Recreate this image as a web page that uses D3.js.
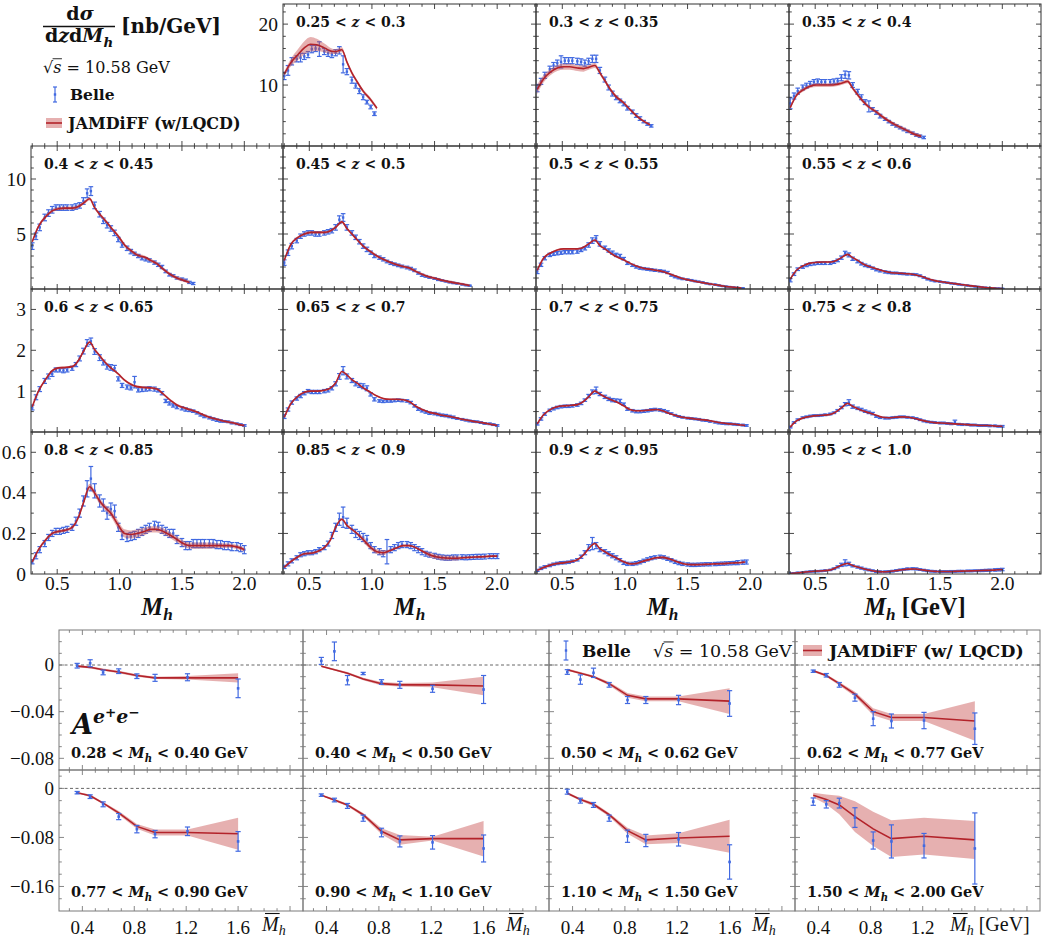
<!DOCTYPE html>
<html>
<head>
<meta charset="utf-8">
<script src="https://cdn.jsdelivr.net/npm/d3@7"></script>
<style>
  body { margin: 0; background: #fff; }
  svg { display: block; }
</style>
</head>
<body>
<svg id="chart" width="1043" height="940"></svg>
<script>
// ---------------- Cross-section data (Belle, e+e- -> (pi+pi-) X) ----------------
// Mh bin centres [GeV] shared by all z bins
const mhBins = [0.30,0.33,0.36,0.40,0.43,0.46,0.49,0.52,0.55,0.58,0.62,0.65,0.68,0.71,0.74,0.77,0.80,0.84,0.87,0.90,
  0.93,0.96,0.99,1.02,1.06,1.09,1.12,1.15,1.18,1.21,1.24,1.28,1.31,1.34,1.37,1.40,1.43,1.46,1.50,1.53,
  1.56,1.59,1.62,1.65,1.68,1.72,1.75,1.78,1.81,1.84,1.87,1.90,1.94,1.97,2.00];
// Mh nodes of the JAMDiFF curves
const thGrid = [0.30,0.35,0.41,0.46,0.51,0.56,0.62,0.67,0.71,0.76,0.80,0.84,0.88,0.93,0.99,1.04,1.09,1.14,1.20,1.25,
  1.30,1.35,1.41,1.46,1.51,1.56,1.62,1.67,1.72,1.78,1.83,1.88,1.93,1.96,2.00];

const zLow  = ["0.25","0.3","0.35","0.4","0.45","0.5","0.55","0.6","0.65","0.7","0.75","0.8","0.85","0.9","0.95"];
const zHigh = ["0.3","0.35","0.4","0.45","0.5","0.55","0.6","0.65","0.7","0.75","0.8","0.85","0.9","0.95","1.0"];

const belle_z1 = [11.5,12.4,13.9,14.3,14.5,14.7,15.0,15.9,16.0,15.9,15.5,15.2,15.0,15.3,15.7,13.4,12.2,10.8,9.9,9.0,8.0,7.2,6.4,5.3];
const belle_z1_err = [0.6,0.8,0.6,0.5,0.7,0.5,0.5,0.6,0.5,1.2,0.5,0.5,0.5,0.5,0.6,1.4,0.5,0.5,0.4,0.4,0.4,0.3,0.3,0.3];
const jam_z1 = [11.8,13.6,15.0,16.1,16.7,16.6,16.1,15.6,15.5,15.8,13.8,12.0,10.6,9.0,7.6,6.2];
const jam_z1_unc = [0.4,0.6,0.9,1.1,1.2,1.0,0.7,0.5,0.4,0.4,0.3,0.3,0.3,0.3,0.3,0.3];

const belle_z2 = [9.5,10.6,11.6,12.6,13.2,13.6,13.8,14.0,14.0,14.0,13.9,13.8,13.6,13.9,14.3,14.3,12.4,10.9,9.6,8.6,7.9,7.4,6.9,6.2,5.6,5.0,4.5,4.0,3.6,3.3];
const belle_z2_err = [0.6,0.5,0.5,0.5,0.5,0.5,1.0,0.5,0.5,0.5,0.5,0.5,0.5,0.5,0.6,0.6,0.5,0.4,0.4,0.4,0.3,0.3,0.3,0.3,0.3,0.3,0.3,0.2,0.2,0.2];
const jam_z2 = [9.3,11.0,12.2,12.8,13.0,13.0,12.8,12.7,12.9,13.2,12.0,10.7,9.4,8.1,7.1,6.0,5.0,4.2,3.5];
const jam_z2_unc = [0.8,0.6,0.5,0.5,0.5,0.5,0.5,0.5,0.4,0.4,0.3,0.3,0.3,0.3,0.2,0.2,0.2,0.2,0.2];

const belle_z3 = [7.0,8.2,9.0,9.6,9.9,10.2,10.5,10.6,10.5,10.5,10.5,10.6,10.7,11.2,11.7,11.6,10.0,8.9,8.0,7.2,6.5,6.0,5.5,4.9,4.4,4.0,3.6,3.3,3.0,2.7,2.4,2.1,1.8,1.6,1.4];
const belle_z3_err = [0.9,0.5,0.5,0.4,0.4,0.4,0.4,0.4,0.4,0.4,0.4,0.4,0.4,0.5,0.6,0.6,0.4,0.4,0.4,0.4,0.9,0.3,0.3,0.3,0.2,0.2,0.2,0.2,0.2,0.2,0.2,0.2,0.2,0.2,0.2];
const jam_z3 = [6.3,8.3,9.3,9.8,10.0,10.0,10.0,10.1,10.3,10.6,9.5,8.4,7.4,6.4,5.6,4.8,4.1,3.5,2.9,2.4,1.9,1.6];
const jam_z3_unc = 0.3;

const belle_z4 = [3.9,4.8,5.6,6.5,6.9,7.2,7.4,7.4,7.4,7.4,7.4,7.5,7.6,8.0,8.7,8.9,7.6,6.8,6.2,5.8,5.5,5.1,4.5,4.0,3.7,3.4,3.2,3.0,2.8,2.7,2.6,2.4,2.2,2.0,1.6,1.3,1.2,1.0,0.9,0.8,0.6,0.5];
const belle_z4_err = [0.3,0.3,0.3,0.3,0.3,0.3,0.25,0.25,0.25,0.25,0.25,0.25,0.25,0.3,0.4,0.4,0.3,0.25,0.25,0.25,0.25,0.25,0.2,0.2,0.2,0.2,0.15,0.15,0.15,0.15,0.15,0.15,0.15,0.15,0.12,0.12,0.1,0.1,0.1,0.1,0.1,0.1];
const jam_z4 = [4.3,5.7,6.6,7.1,7.3,7.35,7.35,7.5,7.8,8.2,7.4,6.8,6.3,5.6,4.8,4.0,3.5,3.1,2.9,2.6,2.3,1.8,1.3,1.0,0.8,0.6];
const jam_z4_unc = 0.15;

const belle_z5 = [2.4,3.3,3.9,4.4,4.8,5.0,5.1,5.1,5.0,5.0,5.1,5.2,5.3,5.6,6.3,6.5,5.6,5.1,4.7,4.3,3.9,3.6,3.3,3.0,2.85,2.7,2.5,2.35,2.25,2.15,2.05,1.95,1.85,1.7,1.45,1.25,1.15,1.05,0.95,0.85,0.78,0.7,0.62,0.55,0.5,0.42,0.35,0.3];
const belle_z5_err = [0.25,0.25,0.25,0.2,0.2,0.2,0.2,0.2,0.2,0.2,0.2,0.2,0.2,0.25,0.35,0.35,0.25,0.2,0.2,0.2,0.2,0.2,0.15,0.15,0.15,0.15,0.12,0.12,0.12,0.12,0.12,0.12,0.12,0.12,0.1,0.1,0.08,0.08,0.08,0.08,0.06,0.06,0.06,0.06,0.05,0.05,0.05,0.05];
const jam_z5 = [2.6,4.0,4.7,5.0,5.15,5.15,5.15,5.3,5.6,6.1,5.5,5.0,4.5,3.9,3.4,3.0,2.7,2.45,2.2,2.05,1.9,1.6,1.3,1.1,0.95,0.8,0.65,0.55,0.45,0.32];
const jam_z5_unc = 0.12;

const belle_z6 = [1.6,2.2,2.8,3.1,3.2,3.25,3.3,3.35,3.35,3.35,3.4,3.55,3.7,4.0,4.4,4.6,4.1,3.75,3.5,3.3,3.1,3.0,2.75,2.35,2.15,2.0,1.9,1.85,1.8,1.75,1.7,1.65,1.6,1.5,1.25,1.1,1.0,0.92,0.85,0.8,0.72,0.66,0.6,0.52,0.45,0.4,0.33,0.27,0.22,0.18,0.14,0.1,0.07];
const belle_z6_err = [0.2,0.15,0.15,0.15,0.15,0.15,0.15,0.15,0.15,0.15,0.15,0.15,0.15,0.2,0.25,0.25,0.2,0.15,0.15,0.15,0.15,0.15,0.12,0.12,0.1,0.1,0.1,0.1,0.1,0.1,0.1,0.1,0.1,0.1,0.08,0.08,0.07,0.07,0.06,0.06,0.06,0.05,0.05,0.05,0.05,0.04,0.04,0.04,0.04,0.04,0.04,0.04,0.04];
const jam_z6 = [1.7,2.8,3.3,3.55,3.65,3.65,3.65,3.8,4.1,4.45,3.95,3.65,3.3,2.95,2.65,2.35,2.1,1.9,1.8,1.7,1.6,1.4,1.15,0.95,0.82,0.7,0.58,0.48,0.38,0.28,0.2,0.14,0.09];
const jam_z6_unc = 0.08;

const belle_z7 = [0.8,1.35,1.8,2.0,2.15,2.25,2.3,2.35,2.35,2.35,2.35,2.45,2.6,2.85,3.25,3.1,2.75,2.5,2.3,2.15,2.05,1.9,1.75,1.65,1.55,1.5,1.45,1.45,1.4,1.38,1.35,1.33,1.3,1.2,1.05,0.9,0.8,0.72,0.67,0.62,0.57,0.52,0.47,0.42,0.37,0.32,0.27,0.23,0.19,0.15,0.12,0.09,0.07,0.05,0.03];
const belle_z7_err = [0.15,0.12,0.12,0.12,0.12,0.12,0.12,0.12,0.12,0.12,0.12,0.12,0.12,0.15,0.18,0.18,0.15,0.12,0.12,0.12,0.1,0.1,0.1,0.1,0.1,0.1,0.08,0.08,0.08,0.08,0.08,0.08,0.08,0.08,0.07,0.07,0.06,0.06,0.05,0.05,0.05,0.05,0.05,0.05,0.04,0.04,0.04,0.04,0.04,0.03,0.03,0.03,0.03,0.03,0.03];
const jam_z7 = [0.9,1.7,2.15,2.35,2.42,2.45,2.45,2.6,2.85,3.15,2.85,2.6,2.3,2.05,1.85,1.65,1.52,1.45,1.42,1.38,1.3,1.15,0.92,0.76,0.66,0.57,0.49,0.41,0.33,0.25,0.18,0.12,0.08,0.05,0.03];
const jam_z7_unc = 0.06;

const belle_z8 = [0.6,0.85,1.05,1.25,1.36,1.42,1.52,1.52,1.5,1.52,1.56,1.65,1.8,1.98,2.18,2.22,1.97,1.82,1.7,1.6,1.58,1.56,1.3,1.14,1.1,1.08,1.22,1.03,1.04,1.05,1.06,1.05,1.02,0.95,0.76,0.7,0.65,0.61,0.58,0.55,0.53,0.51,0.47,0.42,0.38,0.35,0.32,0.29,0.27,0.26,0.25,0.22,0.2,0.18,0.16];
const belle_z8_err = [0.06,0.06,0.06,0.06,0.06,0.06,0.05,0.05,0.05,0.05,0.05,0.05,0.06,0.07,0.08,0.08,0.07,0.07,0.06,0.06,0.07,0.07,0.05,0.05,0.05,0.05,0.14,0.05,0.05,0.05,0.05,0.05,0.04,0.04,0.04,0.04,0.04,0.04,0.04,0.04,0.03,0.03,0.03,0.03,0.03,0.03,0.03,0.03,0.03,0.02,0.02,0.02,0.02,0.02,0.02];
const jam_z8 = [0.62,1.0,1.3,1.5,1.57,1.58,1.6,1.75,1.97,2.2,2.02,1.87,1.72,1.57,1.42,1.27,1.17,1.11,1.09,1.08,1.05,0.93,0.77,0.66,0.6,0.55,0.49,0.42,0.36,0.31,0.27,0.24,0.21,0.18,0.16];
const jam_z8_unc = 0.03;

const belle_z9 = [0.38,0.55,0.72,0.82,0.88,0.95,1.0,0.98,0.98,0.98,1.0,1.02,1.07,1.18,1.36,1.5,1.36,1.26,1.18,1.14,1.12,1.07,0.92,0.8,0.76,0.75,0.76,0.76,0.77,0.78,0.77,0.76,0.72,0.64,0.56,0.52,0.49,0.46,0.45,0.43,0.41,0.4,0.38,0.36,0.33,0.31,0.29,0.27,0.26,0.25,0.23,0.21,0.2,0.18,0.16];
const belle_z9_err = [0.05,0.04,0.04,0.04,0.04,0.04,0.04,0.04,0.04,0.04,0.04,0.04,0.04,0.05,0.07,0.1,0.06,0.05,0.05,0.05,0.06,0.06,0.04,0.04,0.03,0.03,0.03,0.03,0.03,0.03,0.03,0.03,0.03,0.03,0.03,0.03,0.03,0.03,0.03,0.03,0.03,0.03,0.03,0.03,0.02,0.02,0.02,0.02,0.02,0.02,0.02,0.02,0.02,0.02,0.02];
const jam_z9 = [0.36,0.68,0.88,0.97,1.0,1.0,1.02,1.08,1.2,1.48,1.4,1.28,1.2,1.08,0.97,0.88,0.82,0.8,0.8,0.79,0.74,0.63,0.54,0.48,0.45,0.41,0.38,0.35,0.31,0.28,0.25,0.23,0.2,0.18,0.16];
const jam_z9_unc = 0.02;

const belle_z10 = [0.2,0.32,0.44,0.53,0.57,0.6,0.62,0.63,0.63,0.64,0.66,0.7,0.78,0.88,0.98,1.02,0.93,0.86,0.81,0.78,0.77,0.76,0.68,0.56,0.52,0.5,0.5,0.51,0.52,0.54,0.55,0.54,0.52,0.49,0.45,0.41,0.38,0.36,0.34,0.33,0.32,0.31,0.29,0.28,0.26,0.24,0.22,0.21,0.2,0.2,0.19,0.18,0.17,0.16];
const belle_z10_err = [0.03,0.03,0.03,0.03,0.03,0.03,0.03,0.03,0.03,0.03,0.03,0.03,0.03,0.04,0.05,0.08,0.04,0.04,0.04,0.04,0.04,0.04,0.03,0.03,0.03,0.03,0.03,0.03,0.03,0.03,0.03,0.03,0.03,0.03,0.02,0.02,0.02,0.02,0.02,0.02,0.02,0.02,0.02,0.02,0.02,0.02,0.02,0.02,0.02,0.02,0.02,0.02,0.02,0.02];
const jam_z10 = [0.2,0.42,0.56,0.62,0.64,0.65,0.67,0.75,0.86,1.0,0.93,0.86,0.8,0.74,0.64,0.55,0.52,0.52,0.54,0.55,0.52,0.46,0.4,0.36,0.34,0.32,0.3,0.28,0.25,0.22,0.2,0.19,0.17,0.16];
const jam_z10_unc = 0.02;

const belle_z11 = [0.12,0.23,0.3,0.35,0.37,0.39,0.4,0.4,0.41,0.42,0.44,0.47,0.53,0.6,0.68,0.72,0.62,0.58,0.55,0.51,0.48,0.45,0.38,0.35,0.34,0.34,0.35,0.36,0.37,0.37,0.36,0.35,0.33,0.3,0.27,0.25,0.24,0.23,0.22,0.22,0.21,0.2,0.24,0.19,0.18,0.18,0.17,0.17,0.16,0.16,0.16,0.15,0.15,0.14,0.14];
const belle_z11_err = [0.02,0.02,0.02,0.02,0.02,0.02,0.02,0.02,0.02,0.02,0.02,0.02,0.02,0.03,0.04,0.07,0.04,0.03,0.03,0.03,0.03,0.03,0.02,0.02,0.02,0.02,0.02,0.02,0.02,0.02,0.02,0.02,0.02,0.02,0.02,0.02,0.02,0.02,0.02,0.02,0.02,0.02,0.05,0.02,0.02,0.02,0.02,0.02,0.02,0.02,0.02,0.02,0.02,0.02,0.02];
const jam_z11 = [0.12,0.27,0.35,0.38,0.4,0.41,0.43,0.5,0.59,0.7,0.63,0.57,0.52,0.47,0.41,0.36,0.35,0.36,0.37,0.36,0.33,0.29,0.25,0.23,0.22,0.21,0.2,0.19,0.18,0.17,0.16,0.16,0.15,0.14,0.14];
const jam_z11_unc = 0.015;

const belle_z12 = [0.06,0.09,0.12,0.15,0.18,0.2,0.21,0.21,0.215,0.22,0.23,0.26,0.3,0.36,0.42,0.47,0.41,0.36,0.34,0.3,0.32,0.31,0.23,0.19,0.18,0.185,0.19,0.2,0.21,0.22,0.23,0.24,0.235,0.22,0.21,0.2,0.2,0.17,0.155,0.14,0.14,0.15,0.15,0.15,0.15,0.15,0.15,0.145,0.145,0.14,0.14,0.135,0.135,0.13,0.12];
const belle_z12_err = [0.01,0.015,0.015,0.015,0.015,0.015,0.015,0.015,0.015,0.015,0.015,0.02,0.02,0.025,0.04,0.06,0.035,0.03,0.03,0.03,0.03,0.03,0.02,0.02,0.02,0.02,0.02,0.02,0.02,0.02,0.02,0.02,0.02,0.02,0.02,0.02,0.02,0.02,0.02,0.02,0.02,0.02,0.02,0.02,0.02,0.02,0.02,0.02,0.02,0.02,0.02,0.02,0.02,0.02,0.02];
const jam_z12 = [0.06,0.12,0.17,0.2,0.21,0.215,0.23,0.28,0.35,0.43,0.4,0.36,0.33,0.3,0.24,0.2,0.195,0.2,0.21,0.22,0.22,0.21,0.19,0.17,0.15,0.14,0.14,0.14,0.14,0.14,0.14,0.14,0.135,0.13,0.12];
const jam_z12_unc = [0.006,0.008,0.008,0.008,0.008,0.008,0.008,0.01,0.012,0.015,0.015,0.015,0.015,0.018,0.02,0.02,0.02,0.02,0.018,0.015,0.015,0.015,0.015,0.015,0.015,0.015,0.015,0.015,0.015,0.012,0.012,0.01,0.01,0.01,0.01];

const belle_z13 = [0.035,0.05,0.065,0.08,0.095,0.1,0.105,0.105,0.11,0.12,0.13,0.15,0.19,0.23,0.27,0.28,0.25,0.22,0.2,0.19,0.18,0.17,0.14,0.12,0.11,0.1,0.11,0.12,0.13,0.14,0.145,0.145,0.14,0.13,0.12,0.11,0.1,0.095,0.09,0.085,0.082,0.08,0.08,0.082,0.082,0.083,0.082,0.083,0.084,0.085,0.085,0.086,0.088,0.088,0.088];
const belle_z13_err = [0.008,0.01,0.01,0.01,0.01,0.01,0.01,0.01,0.01,0.01,0.01,0.012,0.015,0.02,0.03,0.05,0.025,0.02,0.02,0.02,0.02,0.02,0.015,0.015,0.015,0.015,0.06,0.015,0.015,0.015,0.015,0.015,0.015,0.015,0.015,0.015,0.012,0.012,0.012,0.012,0.012,0.012,0.012,0.012,0.012,0.012,0.012,0.012,0.012,0.012,0.012,0.012,0.012,0.012,0.012];
const jam_z13 = [0.033,0.06,0.085,0.1,0.102,0.11,0.13,0.17,0.23,0.27,0.24,0.22,0.2,0.17,0.13,0.11,0.105,0.115,0.13,0.14,0.14,0.13,0.11,0.095,0.085,0.08,0.078,0.078,0.08,0.082,0.084,0.085,0.087,0.088,0.088];
const jam_z13_unc = [0.006,0.006,0.006,0.006,0.006,0.006,0.006,0.006,0.006,0.006,0.006,0.006,0.006,0.012,0.012,0.012,0.012,0.006,0.006,0.006,0.006,0.006,0.006,0.012,0.012,0.012,0.012,0.012,0.006,0.006,0.006,0.006,0.006,0.006,0.006];

const belle_z14 = [0.018,0.028,0.035,0.042,0.048,0.052,0.055,0.056,0.058,0.063,0.07,0.085,0.105,0.13,0.15,0.14,0.12,0.11,0.1,0.09,0.08,0.068,0.055,0.05,0.05,0.053,0.058,0.065,0.072,0.078,0.082,0.085,0.082,0.075,0.068,0.06,0.054,0.05,0.047,0.045,0.045,0.046,0.047,0.048,0.048,0.049,0.05,0.051,0.052,0.053,0.054,0.056,0.058,0.059];
const belle_z14_err = [0.005,0.006,0.006,0.006,0.006,0.006,0.006,0.006,0.006,0.006,0.006,0.008,0.01,0.015,0.03,0.015,0.01,0.01,0.01,0.01,0.01,0.008,0.008,0.008,0.008,0.008,0.008,0.008,0.008,0.008,0.008,0.008,0.008,0.008,0.008,0.008,0.008,0.008,0.008,0.008,0.008,0.008,0.008,0.008,0.008,0.008,0.008,0.008,0.008,0.008,0.008,0.01,0.01,0.01];
const jam_z14 = [0.018,0.032,0.045,0.052,0.055,0.06,0.07,0.095,0.125,0.15,0.125,0.11,0.095,0.08,0.06,0.05,0.052,0.062,0.072,0.08,0.082,0.075,0.062,0.052,0.047,0.046,0.047,0.048,0.05,0.051,0.053,0.055,0.057,0.059];
const jam_z14_unc = 0.005;

const belle_z15 = [0.002,0.004,0.006,0.008,0.01,0.012,0.013,0.014,0.015,0.017,0.02,0.026,0.035,0.045,0.055,0.05,0.04,0.034,0.029,0.024,0.02,0.016,0.012,0.011,0.011,0.012,0.014,0.017,0.02,0.023,0.025,0.026,0.025,0.022,0.019,0.016,0.014,0.013,0.012,0.012,0.012,0.013,0.013,0.014,0.014,0.015,0.015,0.016,0.016,0.017,0.018,0.019,0.02,0.021,0.022];
const belle_z15_err = [0.003,0.003,0.003,0.003,0.003,0.003,0.003,0.003,0.003,0.003,0.003,0.004,0.005,0.008,0.015,0.008,0.005,0.005,0.005,0.004,0.004,0.004,0.004,0.004,0.004,0.004,0.004,0.004,0.004,0.004,0.005,0.005,0.005,0.004,0.004,0.004,0.004,0.004,0.004,0.004,0.004,0.004,0.004,0.004,0.004,0.004,0.004,0.004,0.004,0.005,0.005,0.005,0.006,0.006,0.006];
const jam_z15 = [0.002,0.005,0.009,0.012,0.014,0.016,0.02,0.032,0.043,0.052,0.042,0.034,0.027,0.02,0.013,0.011,0.012,0.016,0.021,0.024,0.025,0.021,0.016,0.013,0.012,0.012,0.013,0.014,0.015,0.016,0.017,0.018,0.019,0.021,0.022];
const jam_z15_unc = 0.003;

// ---------------- Artru-Collins asymmetry data ----------------
const mbarBins = [0.36,0.46,0.56,0.68,0.82,0.96,1.21,1.60];
const mhLow  = ["0.28","0.40","0.50","0.62","0.77","0.90","1.10","1.50"];
const mhHigh = ["0.40","0.50","0.62","0.77","0.90","1.10","1.50","2.00"];

const asym_1 = [-0.0006,0.0015,-0.0064,-0.0053,-0.0096,-0.011,-0.0105,-0.020];
const asym_1_err = [0.002,0.003,0.002,0.002,0.002,0.003,0.003,0.008];
const fit_1 = [-0.001,-0.002,-0.004,-0.006,-0.009,-0.011,-0.011,-0.011];
const fit_1_unc = [0.001,0.001,0.001,0.001,0.001,0.001,0.0015,0.004];

const asym_2 = [0.0035,0.0117,-0.013,-0.0073,-0.0146,-0.017,-0.0204,-0.021];
const asym_2_err = [0.003,0.008,0.004,0.001,0.002,0.003,0.003,0.012];
const fit_2 = [-0.001,-0.004,-0.007,-0.012,-0.016,-0.017,-0.017,-0.018];
const fit_2_unc = [0.0008,0.0008,0.001,0.001,0.0015,0.0015,0.002,0.008];

const asym_3 = [-0.006,-0.0125,-0.0067,-0.017,-0.030,-0.030,-0.030,-0.033];
const asym_3_err = [0.002,0.004,0.004,0.002,0.003,0.003,0.004,0.011];
const fit_3 = [-0.004,-0.007,-0.010,-0.016,-0.026,-0.029,-0.029,-0.031];
const fit_3_unc = [0.001,0.001,0.001,0.0015,0.002,0.002,0.002,0.011];

const asym_4 = [-0.0053,-0.0088,-0.017,-0.028,-0.046,-0.048,-0.0476,-0.0546];
const asym_4_err = [0.001,0.0015,0.002,0.003,0.006,0.006,0.007,0.0135];
const fit_4 = [-0.005,-0.009,-0.016,-0.025,-0.040,-0.045,-0.045,-0.048];
const fit_4_unc = [0.001,0.001,0.0015,0.002,0.003,0.003,0.003,0.017];

const asym_5 = [-0.007,-0.0135,-0.026,-0.046,-0.0665,-0.0746,-0.070,-0.0865];
const asym_5_err = [0.002,0.003,0.004,0.005,0.006,0.006,0.007,0.016];
const fit_5 = [-0.007,-0.012,-0.024,-0.040,-0.062,-0.072,-0.072,-0.074];
const fit_5_unc = [0.001,0.002,0.002,0.003,0.004,0.005,0.005,0.026];

const asym_6 = [-0.011,-0.019,-0.0286,-0.0486,-0.072,-0.0865,-0.088,-0.098];
const asym_6_err = [0.002,0.003,0.004,0.005,0.007,0.009,0.011,0.022];
const fit_6 = [-0.011,-0.019,-0.027,-0.043,-0.070,-0.084,-0.082,-0.082];
const fit_6_unc = [0.001,0.002,0.002,0.003,0.005,0.008,0.003,0.029];

const asym_7 = [-0.0054,-0.020,-0.027,-0.0486,-0.078,-0.085,-0.083,-0.12];
const asym_7_err = [0.004,0.004,0.004,0.005,0.01,0.01,0.011,0.028];
const fit_7 = [-0.008,-0.018,-0.026,-0.043,-0.069,-0.084,-0.081,-0.078];
const fit_7_unc = [0.002,0.002,0.003,0.003,0.005,0.007,0.008,0.027];

const asym_8 = [-0.0216,-0.026,-0.024,-0.0476,-0.085,-0.0865,-0.0935,-0.098];
const asym_8_err = [0.006,0.006,0.008,0.016,0.014,0.027,0.02,0.058];
const fit_8 = [-0.011,-0.018,-0.027,-0.046,-0.066,-0.082,-0.078,-0.084];
const fit_8_unc = [0.004,0.008,0.015,0.025,0.028,0.03,0.03,0.031];

// ---------------- tick values ----------------
const mhMajor = [0.5,1.0,1.5,2.0];
const mhMinor = [0.3,0.4,0.6,0.7,0.8,0.9,1.1,1.2,1.3,1.4,1.6,1.7,1.8,1.9,2.1,2.2,2.3];
const mhTickLabels = ["0.5","1.0","1.5","2.0"];
const xsMajor = [[10,20],[5,10],[1,2,3],[0,0.2,0.4,0.6]];
const xsMinor = [[2,4,6,8,12,14,16,18,22],[1,2,3,4,6,7,8,9,11,12],[0.5,1.5,2.5],[0.1,0.3,0.5]];
const xsTickLabels = [["10","20"],["5","10"],["1","2","3"],["0","0.2","0.4","0.6"]];
const mbMajor = [0.4,0.8,1.2,1.6,2.0];
const mbMinor = [0.3,0.5,0.6,0.7,0.9,1.0,1.1,1.3,1.4,1.5,1.7,1.8,1.9];
const mbTickLabels = ["0.4","0.8","1.2","1.6"];
const asMajor = [[0,-0.04,-0.08],[0,-0.08,-0.16]];
const asMinor = [[0.02,0.01,-0.01,-0.02,-0.03,-0.05,-0.06,-0.07],[0.02,-0.02,-0.04,-0.06,-0.1,-0.12,-0.14,-0.18]];
const asTickLabels = [["0","\u22120.04","\u22120.08"],["0","\u22120.08","\u22120.16"]];

// ---------------- styling ----------------
const BLUE = "#4169e1", RED = "#b3232a", BAND = "rgba(200,80,80,0.45)";
const NUM = "'Liberation Serif','Times New Roman',serif";
const BOLD = "'DejaVu Serif',serif";
const INK = "#111";

const svg = d3.select("#chart");
const defs = svg.append("defs");
let clipId = 0;

// text with italic pieces, sub/superscripts (level 1) and second-level superscripts
function richText(g, x, y, parts, o) {
  const t = g.append("text").attr("x", x).attr("y", y)
    .style("font-family", o.family).style("font-size", o.size + "px")
    .style("font-weight", o.weight || "normal").attr("fill", o.fill || INK);
  if (o.anchor) t.attr("text-anchor", o.anchor);
  let shift = 0;
  const subDrop = o.subDrop || 0.28;
  parts.forEach(p => {
    const s = t.append("tspan").text(p.t);
    if (p.i) s.style("font-style", "italic");
    if (p.w) s.style("font-weight", p.w);
    let d = 0, scale = 1;
    if (p.sub) { d = o.size * subDrop; scale = 0.7; }
    else if (p.sup) { d = -o.size * 0.42; scale = 0.7; }
    else if (p.sup2) { d = -o.size * 0.62; scale = 0.5; }
    if (d !== shift) s.attr("dy", d - shift);
    shift = d;
    if (scale !== 1) s.style("font-size", (o.size * scale) + "px");
    if (p.dx) s.attr("dx", p.dx);
  });
  return t;
}

function frame(g, x, y, xMaj, xMin, yMaj, yMin, color) {
  const [x0, x1] = x.range(), [yb, yt] = y.range();
  const [dx0, dx1] = x.domain(), dy = y.domain();
  const ylo = Math.min(...dy), yhi = Math.max(...dy);
  const inX = v => v > dx0 + 1e-9 && v < dx1 - 1e-9;
  const inY = v => v > ylo + 1e-9 && v < yhi - 1e-9;
  const segs = [];
  xMaj.filter(inX).forEach(v => segs.push([x(v), yb, x(v), yb - 5], [x(v), yt, x(v), yt + 5]));
  xMin.filter(inX).forEach(v => segs.push([x(v), yb, x(v), yb - 2.8], [x(v), yt, x(v), yt + 2.8]));
  yMaj.filter(inY).forEach(v => segs.push([x0, y(v), x0 + 5, y(v)], [x1, y(v), x1 - 5, y(v)]));
  yMin.filter(inY).forEach(v => segs.push([x0, y(v), x0 + 2.8, y(v)], [x1, y(v), x1 - 2.8, y(v)]));
  g.append("g").selectAll("line").data(segs).join("line")
    .attr("x1", d => d[0]).attr("y1", d => d[1]).attr("x2", d => d[2]).attr("y2", d => d[3])
    .attr("stroke", color).attr("stroke-width", 0.9);
  g.append("rect").attr("x", x0).attr("y", yt).attr("width", x1 - x0).attr("height", yb - yt)
    .attr("fill", "none").attr("stroke", color).attr("stroke-width", 1);
}

function clipFor(x, y) {
  const id = "clip" + (clipId++);
  const [x0, x1] = x.range(), [yb, yt] = y.range();
  defs.append("clipPath").attr("id", id).append("rect")
    .attr("x", x0).attr("y", yt).attr("width", x1 - x0).attr("height", yb - yt);
  return "url(#" + id + ")";
}

function drawTheory(g, x, y, grid, vals, unc, curve) {
  const pts = vals.map((v, i) => ({ m: grid[i], v, u: Array.isArray(unc) ? unc[i] : unc }));
  g.append("path").datum(pts)
    .attr("d", d3.area().x(d => x(d.m)).y0(d => y(d.v - d.u)).y1(d => y(d.v + d.u)).curve(curve))
    .attr("fill", BAND).attr("stroke", "none");
  g.append("path").datum(pts)
    .attr("d", d3.line().x(d => x(d.m)).y(d => y(d.v)).curve(curve))
    .attr("fill", "none").attr("stroke", RED).attr("stroke-width", 1.6);
}

function drawPoints(g, x, y, grid, vals, errs, cap, mk, lw) {
  const pts = vals.map((v, i) => ({ m: grid[i], v, e: errs[i] }));
  const pg = g.append("g").attr("stroke", BLUE).attr("stroke-width", lw);
  pg.selectAll(".eb").data(pts).join("line").attr("class", "eb")
    .attr("x1", d => x(d.m)).attr("x2", d => x(d.m)).attr("y1", d => y(d.v - d.e)).attr("y2", d => y(d.v + d.e));
  pg.selectAll(".cl").data(pts).join("line").attr("class", "cl")
    .attr("x1", d => x(d.m) - cap).attr("x2", d => x(d.m) + cap).attr("y1", d => y(d.v - d.e)).attr("y2", d => y(d.v - d.e));
  pg.selectAll(".ch").data(pts).join("line").attr("class", "ch")
    .attr("x1", d => x(d.m) - cap).attr("x2", d => x(d.m) + cap).attr("y1", d => y(d.v + d.e)).attr("y2", d => y(d.v + d.e));
  g.append("g").selectAll("rect").data(pts).join("rect")
    .attr("x", d => x(d.m) - mk / 2).attr("y", d => y(d.v) - mk / 2).attr("width", mk).attr("height", mk)
    .attr("fill", BLUE);
}

function sqrtS(g, x, y, size, rest) {
  const t = g.append("text").attr("x", x).attr("y", y)
    .style("font-family", BOLD).style("font-size", size + "px").attr("fill", INK);
  t.append("tspan").text("\u221a");
  t.append("tspan").text("s").style("font-style", "italic");
  t.append("tspan").text(rest);
  const n = t.node();
  const wR = n.getSubStringLength(0, 1), wS = n.getSubStringLength(1, 1);
  g.append("line").attr("x1", x + wR - 0.6).attr("x2", x + wR + wS + 0.5)
    .attr("y1", y - size * 0.86).attr("y2", y - size * 0.86)
    .attr("stroke", INK).attr("stroke-width", size * 0.055);
}
function errGlyph(g, cx, y0, y1, cap) {
  const e = g.append("g").attr("stroke", BLUE).attr("stroke-width", 1.2);
  e.append("line").attr("x1", cx).attr("x2", cx).attr("y1", y0).attr("y2", y1);
  e.append("line").attr("x1", cx - cap).attr("x2", cx + cap).attr("y1", y0).attr("y2", y0);
  e.append("line").attr("x1", cx - cap).attr("x2", cx + cap).attr("y1", y1).attr("y2", y1);
  g.append("rect").attr("x", cx - 1.2).attr("y", (y0 + y1) / 2 - 1.2).attr("width", 2.4).attr("height", 2.4).attr("fill", BLUE);
}
function bandGlyph(g, x, y, w, h) {
  g.append("rect").attr("x", x).attr("y", y).attr("width", w).attr("height", h).attr("fill", BAND);
  g.append("line").attr("x1", x).attr("x2", x + w).attr("y1", y + h / 2).attr("y2", y + h / 2)
    .attr("stroke", RED).attr("stroke-width", 1.6);
}

// ================= upper block: cross sections =================
const TX = [31, 283, 536, 789, 1041];
const TY = [4, 146, 289, 432, 574];
const mhDomain = [0.29, 2.31];
const rowDomain = [[0, 23.3], [0, 13], [0, 3.5], [0, 0.7]];

const xsecBelle = [belle_z1,belle_z2,belle_z3,belle_z4,belle_z5,belle_z6,belle_z7,belle_z8,belle_z9,belle_z10,belle_z11,belle_z12,belle_z13,belle_z14,belle_z15];
const xsecErr = [belle_z1_err,belle_z2_err,belle_z3_err,belle_z4_err,belle_z5_err,belle_z6_err,belle_z7_err,belle_z8_err,belle_z9_err,belle_z10_err,belle_z11_err,belle_z12_err,belle_z13_err,belle_z14_err,belle_z15_err];
const xsecJam = [jam_z1,jam_z2,jam_z3,jam_z4,jam_z5,jam_z6,jam_z7,jam_z8,jam_z9,jam_z10,jam_z11,jam_z12,jam_z13,jam_z14,jam_z15];
const xsecUnc = [jam_z1_unc,jam_z2_unc,jam_z3_unc,jam_z4_unc,jam_z5_unc,jam_z6_unc,jam_z7_unc,jam_z8_unc,jam_z9_unc,jam_z10_unc,jam_z11_unc,jam_z12_unc,jam_z13_unc,jam_z14_unc,jam_z15_unc];

const upper = svg.append("g");

// empty corner cell: only its lower edge carries ticks
{
  const x = d3.scaleLinear().domain(mhDomain).range([TX[0], TX[1]]);
  const segs = mhMajor.map(v => [v, 5]).concat(mhMinor.filter(v => v > mhDomain[0] && v < mhDomain[1]).map(v => [v, 2.8]));
  upper.append("g").selectAll("line").data(segs).join("line")
    .attr("x1", d => x(d[0])).attr("x2", d => x(d[0])).attr("y1", TY[1]).attr("y2", d => TY[1] - d[1])
    .attr("stroke", "#333").attr("stroke-width", 0.9);
}

xsecBelle.forEach((vals, i) => {
  const k = i + 1, r = Math.floor(k / 4), c = k % 4;
  const x = d3.scaleLinear().domain(mhDomain).range([TX[c], TX[c + 1]]);
  const y = d3.scaleLinear().domain(rowDomain[r]).range([TY[r + 1], TY[r]]);
  const g = upper.append("g");
  const inner = g.append("g").attr("clip-path", clipFor(x, y));
  drawPoints(inner, x, y, mhBins, vals, xsecErr[i], 2.3, 2.4, 1.2);
  drawTheory(inner, x, y, thGrid, xsecJam[i], xsecUnc[i], d3.curveMonotoneX);
  frame(g, x, y, mhMajor, mhMinor, xsMajor[r], xsMinor[r], "#333");

  richText(g, TX[c] + 13, TY[r] + 23,
    [{ t: zLow[i] }, { t: " < " }, { t: "z", i: true }, { t: " < " }, { t: zHigh[i] }],
    { family: BOLD, size: 14, weight: "bold" });

  if (c === 0 || (r === 0 && c === 1)) {
    g.append("g").selectAll("text").data(xsMajor[r]).join("text")
      .attr("x", TX[c] - 5).attr("y", d => y(d)).attr("dy", "0.34em").attr("text-anchor", "end")
      .style("font-family", NUM).style("font-size", "19.5px").attr("fill", INK)
      .text((d, j) => xsTickLabels[r][j]);
  }
  if (r === 3) {
    g.append("g").selectAll("text").data(mhMajor).join("text")
      .attr("x", d => x(d)).attr("y", 590).attr("text-anchor", "middle")
      .style("font-family", NUM).style("font-size", "19.5px").attr("fill", INK)
      .text((d, j) => mhTickLabels[j]);
    const parts = [{ t: "M", i: true }, { t: "h", i: true, sub: true }];
    if (c === 3) parts.push({ t: " [GeV]", w: "bold" });
    richText(g, (TX[c] + TX[c + 1]) / 2, 615, parts,
      { family: NUM, size: 24.5, weight: "bold", anchor: "middle", subDrop: 0.2 });
  }
});

// corner legend
{
  const lg = upper.append("g");
  richText(lg, 80, 20, [{ t: "d" }, { t: "\u03c3", i: true }], { family: BOLD, size: 19, weight: "bold", anchor: "middle" });
  lg.append("line").attr("x1", 43).attr("x2", 115).attr("y1", 26.5).attr("y2", 26.5).attr("stroke", INK).attr("stroke-width", 1.3);
  richText(lg, 79, 42, [{ t: "d" }, { t: "z", i: true }, { t: "d" }, { t: "M", i: true }, { t: "h", i: true, sub: true }],
    { family: BOLD, size: 19, weight: "bold", anchor: "middle" });
  richText(lg, 121, 33, [{ t: "[nb/GeV]" }], { family: BOLD, size: 20, weight: "bold" });
  sqrtS(lg, 43, 72.5, 16, " = 10.58 GeV");
  errGlyph(lg, 55, 87, 102, 2);
  richText(lg, 70, 99.5, [{ t: "Belle" }], { family: BOLD, size: 15.5, weight: "bold" });
  bandGlyph(lg, 46, 118, 16, 10);
  richText(lg, 68, 128.5, [{ t: "JAMDiFF (w/LQCD)" }], { family: BOLD, size: 16, weight: "bold" });
}

// ================= lower block: asymmetries =================
const BX = [59, 303, 549, 795, 1040];
const BY = [630, 770, 911];
const mbDomain = [0.22, 2.1];
const asDomain = [[-0.09, 0.03], [-0.2, 0.03]];
const asymData = [asym_1,asym_2,asym_3,asym_4,asym_5,asym_6,asym_7,asym_8];
const asymErr = [asym_1_err,asym_2_err,asym_3_err,asym_4_err,asym_5_err,asym_6_err,asym_7_err,asym_8_err];
const asymFit = [fit_1,fit_2,fit_3,fit_4,fit_5,fit_6,fit_7,fit_8];
const asymUnc = [fit_1_unc,fit_2_unc,fit_3_unc,fit_4_unc,fit_5_unc,fit_6_unc,fit_7_unc,fit_8_unc];

const lower = svg.append("g");
asymData.forEach((vals, i) => {
  const r = Math.floor(i / 4), c = i % 4;
  const x = d3.scaleLinear().domain(mbDomain).range([BX[c], BX[c + 1]]);
  const y = d3.scaleLinear().domain(asDomain[r]).range([BY[r + 1], BY[r]]);
  const g = lower.append("g");
  const inner = g.append("g").attr("clip-path", clipFor(x, y));
  inner.append("line").attr("x1", BX[c]).attr("x2", BX[c + 1]).attr("y1", y(0)).attr("y2", y(0))
    .attr("stroke", "#555").attr("stroke-width", 0.9).attr("stroke-dasharray", "3,2.5");
  drawTheory(inner, x, y, mbarBins, asymFit[i], asymUnc[i], d3.curveLinear);
  drawPoints(inner, x, y, mbarBins, vals, asymErr[i], 2.6, 2.6, 1.2);
  frame(g, x, y, mbMajor, mbMinor, asMajor[r], asMinor[r], "#7a7a7a");

  richText(g, BX[c] + 12, r === 0 ? 758 : 897,
    [{ t: mhLow[i] + " < " }, { t: "M", i: true }, { t: "h", i: true, sub: true }, { t: " < " + mhHigh[i] + " GeV" }],
    { family: BOLD, size: 14.5, weight: "bold" });

  if (c === 0) {
    g.append("g").selectAll("text").data(asMajor[r]).join("text")
      .attr("x", BX[0] - 5).attr("y", d => y(d)).attr("dy", "0.34em").attr("text-anchor", "end")
      .style("font-family", NUM).style("font-size", "19px").attr("fill", INK)
      .text((d, j) => asTickLabels[r][j]);
  }
  if (r === 1) {
    const shown = c === 3 ? 3 : 4;
    g.append("g").selectAll("text").data(mbMajor.slice(0, shown)).join("text")
      .attr("x", d => x(d)).attr("y", 934).attr("text-anchor", "middle")
      .style("font-family", NUM).style("font-size", "19px").attr("fill", INK)
      .text((d, j) => mbTickLabels[j]);
    const lx = c === 3 ? BX[c] + 155 : BX[c] + 203;
    const t = richText(g, lx, 931, c === 3
      ? [{ t: "M", i: true }, { t: "h", i: true, sub: true }, { t: " [GeV]" }]
      : [{ t: "M", i: true }, { t: "h", i: true, sub: true }],
      { family: NUM, size: 20, subDrop: 0.2 });
    const wM = t.node().getSubStringLength(0, 1);
    g.append("line").attr("x1", lx + 3).attr("x2", lx + wM + 1).attr("y1", 931 - 17.5).attr("y2", 931 - 17.5)
      .attr("stroke", INK).attr("stroke-width", 1.1);
  }
});

// asymmetry symbol and legend entries
richText(lower, 72, 734, [{ t: "A", i: true }, { t: "e", i: true, sup: true }, { t: "+", sup2: true }, { t: "e", i: true, sup: true }, { t: "\u2212", sup2: true }],
  { family: BOLD, size: 27, weight: "bold" });
errGlyph(lower, 566, 641, 660, 2.4);
richText(lower, 582, 657, [{ t: "Belle" }], { family: BOLD, size: 17, weight: "bold" });
sqrtS(lower, 653, 657, 17.5, " = 10.58 GeV");
bandGlyph(lower, 803, 645, 19, 11);
richText(lower, 829, 657, [{ t: "JAMDiFF (w/ LQCD)" }], { family: BOLD, size: 17.5, weight: "bold" });
</script>
</body>
</html>
